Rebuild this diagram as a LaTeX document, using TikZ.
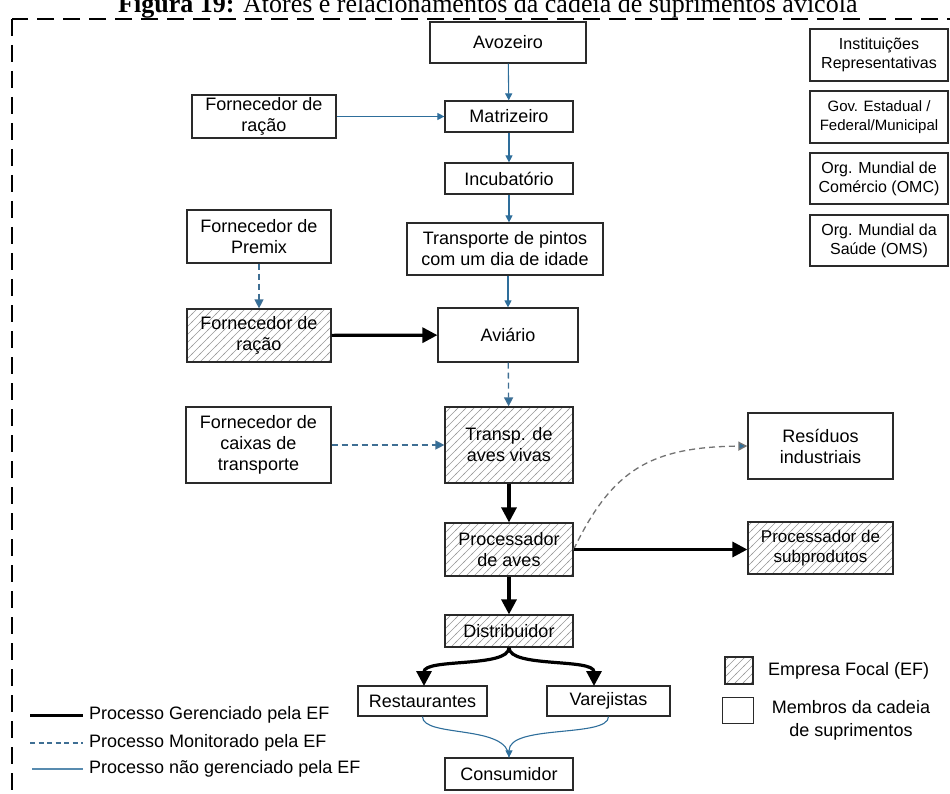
\documentclass[tikz,border=0pt]{standalone}
\usepackage{fontspec}
\setmainfont{Liberation Sans}
\newfontfamily\titlefont{Liberation Serif}
\usetikzlibrary{arrows.meta,patterns}

% diagonal hatching used for the focal company boxes
\pgfdeclarepatternformonly{hatch}{\pgfqpoint{-1pt}{-1pt}}{\pgfqpoint{9pt}{9pt}}{\pgfqpoint{8pt}{8pt}}{%
  \pgfsetlinewidth{0.6pt}%
  \pgfpathmoveto{\pgfqpoint{-1pt}{-1pt}}%
  \pgfpathlineto{\pgfqpoint{9pt}{9pt}}%
  \pgfusepath{stroke}%
}

\definecolor{flowblue}{HTML}{2E6E9B}
\definecolor{monitor}{HTML}{3F6F94}
\definecolor{edgegray}{HTML}{2A2A2A}

\begin{document}
\begin{tikzpicture}[x=1pt,y=-1pt,
  box/.style={draw=edgegray, line width=1.2pt, fill=white, align=center,
    inner sep=0pt, font=\fontsize{18}{21}\selectfont},
  focal/.style={box, preaction={fill=white}, pattern=hatch, pattern color=black!40},
  small/.style={font=\fontsize{16}{19}\selectfont},
  thin/.style={draw=flowblue, line width=1.1pt, -{Triangle[length=7pt,width=7pt]}},
  monit/.style={draw=monitor, line width=1.3pt, dash pattern=on 6pt off 4pt,
    -{Triangle[length=9pt,width=9pt,fill=flowblue]}},
  managed/.style={draw=black, line width=3.2pt, -{Triangle[length=15pt,width=15pt]}},
  frame/.style={draw=black, line width=2.6pt, dash pattern=on 17pt off 9pt},
  legtext/.style={anchor=west, inner sep=0pt, font=\fontsize{18}{21}\selectfont}
]
\useasboundingbox (0,0) rectangle (950,794);
\clip (0,0) rectangle (950,794);

% caption, cut by the page edge
\node[anchor=base west, inner sep=0pt, font=\titlefont\fontsize{26}{30}\selectfont] (title) at (118,13)
  {\textbf{Figura 19:} Atores e relacionamentos da cadeia de suprimentos avícola};

% dashed frame
\draw[frame] (12,19) rectangle (990,830);

% main chain
\node[box, minimum width=156pt, minimum height=41pt] (avo)  at (508,42.5)  {Avozeiro};
\node[box, minimum width=128pt, minimum height=31pt] (matr) at (509,116.5) {Matrizeiro};
\node[box, minimum width=128pt, minimum height=31pt] (incu) at (509,178.5) {Incubatório};
\node[box, minimum width=196pt, minimum height=52pt] (trpi) at (505,249)   {Transporte de pintos\\com um dia de idade};
\node[box, minimum width=140pt, minimum height=54pt] (avi)  at (508,335)   {Aviário};
\node[focal, minimum width=128pt, minimum height=76pt] (tav)  at (509,445)   {Transp. de\\aves vivas};
\node[focal, minimum width=128pt, minimum height=53pt] (proc) at (509,549.5) {Processador\\de aves};
\node[focal, minimum width=128pt, minimum height=32pt] (dist) at (509,631)   {Distribuidor};
\node[box, minimum width=129pt, minimum height=30pt] (rest) at (422.5,701) {Restaurantes};
\node[box, minimum width=123pt, minimum height=30pt] (vare) at (608.5,701) {Varejistas};
\node[box, minimum width=128pt, minimum height=32pt] (cons) at (509,774)   {Consumidor};

% suppliers
\node[box, minimum width=144pt, minimum height=43pt] (forn1) at (264,116.5) {Fornecedor de\\ração};
\node[box, minimum width=144pt, minimum height=53pt] (prem)  at (259,236.5) {Fornecedor de\\Premix};
\node[focal, minimum width=144pt, minimum height=53pt] (forn2) at (259,335.5) {Fornecedor de\\ração};
\node[box, minimum width=145pt, minimum height=76pt] (caix)  at (258.5,445) {Fornecedor de\\caixas de\\transporte};

% outputs
\node[box, minimum width=145pt, minimum height=66pt] (resid) at (820.5,446) {Resíduos\\industriais};
\node[focal, minimum width=145pt, minimum height=52pt, font=\fontsize{17}{20}\selectfont] (subp) at (820.5,548) {Processador de\\subprodutos};

% institutions
\node[box, small, minimum width=138pt, minimum height=52pt] (inst) at (879,55)  {Instituições\\Representativas};
\node[box, minimum width=138pt, minimum height=52pt, font=\fontsize{15}{19}\selectfont] (gov) at (879,117) {Gov. Estadual /\\Federal/Municipal};
\node[box, small, minimum width=138pt, minimum height=51pt] (omc)  at (879,178.5) {Org. Mundial de\\Comércio (OMC)};
\node[box, small, minimum width=138pt, minimum height=51pt] (oms)  at (879,240.5) {Org. Mundial da\\Saúde (OMS)};

% flows not managed by the focal company
\draw[thin] (avo) -- (matr);
\draw[thin] (forn1) -- (matr);
\draw[thin] (matr) -- (incu);
\draw[thin] (incu.south) -- (incu.south |- trpi.north);
\draw[thin] (avi.north |- trpi.south) -- (avi.north);
\draw[draw=flowblue, line width=1.1pt] (rest.south) .. controls (422.5,738) and (509,724) .. (cons.north);
\draw[thin] (vare.south) .. controls (608.5,738) and (509,724) .. (cons.north);

% monitored flows
\draw[monit] (prem) -- (forn2);
\draw[monit] (avi) -- (tav);
\draw[monit] (caix) -- (tav);
\draw[monit, draw=black!55] (proc.east) .. controls (612,470) and (650,447) .. (resid.west);

% managed flows
\draw[managed] (forn2) -- (avi);
\draw[managed] (tav) -- (proc);
\draw[managed] (proc.east) -- (proc.east -| subp.west);
\draw[managed] (proc) -- (dist);
\draw[managed] (dist.south) .. controls (509,668) and (424,658) .. (424,686);
\draw[managed] (dist.south) .. controls (509,668) and (594,658) .. (594,686);

% legend: line styles
\coordinate (la1) at (30,715);  \coordinate (lb1) at (83,715);
\coordinate (la2) at (30,743);  \coordinate (lb2) at (83,743);
\coordinate (la3) at (32,769);  \coordinate (lb3) at (83,769);
\draw[black, line width=3pt] (la1) -- (lb1);
\draw[monitor, line width=1.2pt, dash pattern=on 5pt off 3.5pt] (la2) -- (lb2);
\draw[flowblue!80, line width=1.2pt] (la3) -- (lb3);
\node[legtext] (lt1) at (89,715) {Processo Gerenciado pela EF};
\node[legtext] (lt2) at (89,743) {Processo Monitorado pela EF};
\node[legtext] (lt3) at (89,769) {Processo não gerenciado pela EF};

% legend: box types
\node[focal, minimum width=28pt, minimum height=27pt] (lgf) at (739,670.5) {};
\node[legtext] (lgft) at (768,671) {Empresa Focal (EF)};
\node[box, minimum width=31pt, minimum height=26pt] (lgm) at (738,710.5) {};
\node[align=center, inner sep=0pt, font=\fontsize{18}{23}\selectfont] (lgmt) at (851,720) {Membros da cadeia\\de suprimentos};

\end{tikzpicture}
\end{document}
